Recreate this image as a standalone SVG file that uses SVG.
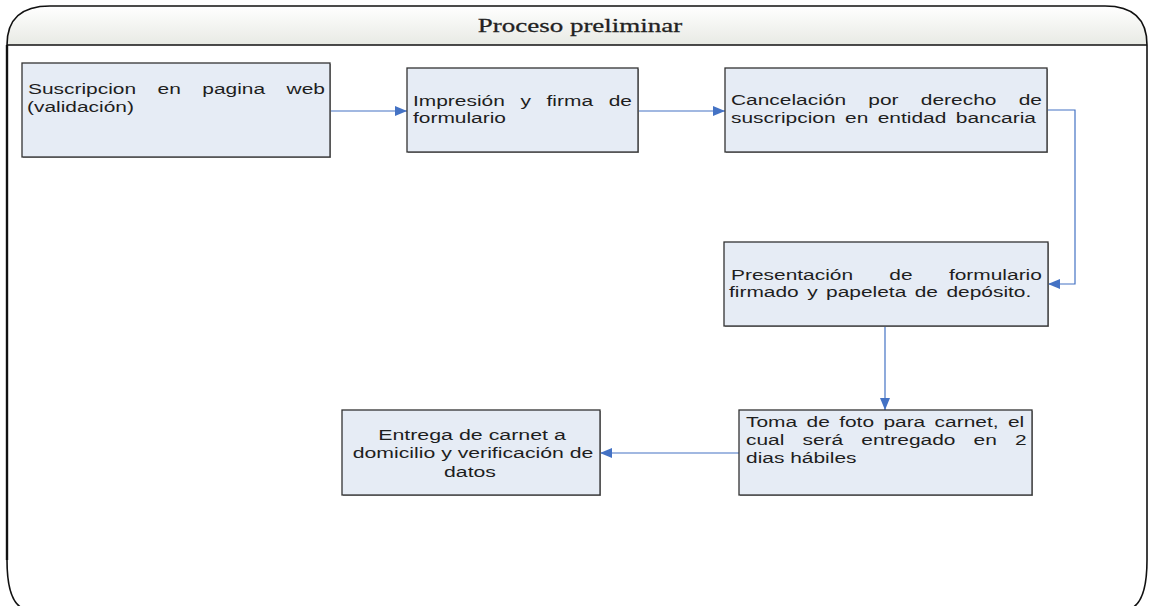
<svg xmlns="http://www.w3.org/2000/svg" width="1149" height="606" viewBox="0 0 1149 606">
<defs>
<linearGradient id="hdr" x1="0" y1="0" x2="0" y2="1">
<stop offset="0" stop-color="#ffffff"/>
<stop offset="1" stop-color="#e8eae4"/>
</linearGradient>
<marker id="ah" viewBox="0 0 12 10" refX="12" refY="5" markerWidth="12" markerHeight="10" markerUnits="userSpaceOnUse" orient="auto">
<path d="M0,0 L12,5 L0,10 z" fill="#4472C4"/>
</marker>
</defs>
<style>
.box{fill:#E6ECF5;stroke:#333;stroke-width:1.3}
.sh{fill:#9a9a9a}
.t{font-family:"Liberation Sans",Arial,sans-serif;font-size:15.5px;fill:#1e1e1e}
.c{stroke:#4472C4;stroke-width:1.2;fill:none;marker-end:url(#ah)}
</style>
<rect width="1149" height="606" fill="#fff"/>
<g id="frame">
<path d="M7,45 Q7,6 50,6 L1105,6 Q1147,6 1147,45 Z" fill="url(#hdr)"/>
<path d="M7,560 L7,45 Q7,6 50,6 L1105,6 Q1147,6 1147,45 L1147,560" fill="none" stroke="#111" stroke-width="1.6"/>
<path d="M7,560 Q7,600 22,608 M1147,560 Q1147,600 1132,608" fill="none" stroke="#111" stroke-width="1.6"/>
<line x1="7" y1="45" x2="1147" y2="45" stroke="#111" stroke-width="1.6"/>
<line x1="7" y1="45" x2="7" y2="560" stroke="#111" stroke-width="2.4"/>
<text transform="translate(580,32) scale(1.42,1)" text-anchor="middle" font-family="Liberation Serif,'Times New Roman',serif" font-size="19" fill="#222" stroke="#222" stroke-width="0.25">Proceso preliminar</text>
</g>
<g id="connectors">
<line class="c" x1="330" y1="111" x2="407" y2="111"/>
<line class="c" x1="638" y1="111" x2="725" y2="111"/>
<polyline class="c" points="1047,110 1075,110 1075,284 1048,284"/>
<line class="c" x1="885" y1="326" x2="885" y2="410"/>
<line class="c" x1="739" y1="453" x2="600" y2="453"/>
</g>
<g id="n1">
<rect class="sh" x="23" y="64" width="308" height="94"/>
<rect class="box" x="22" y="63" width="308" height="94"/>
<text class="t" transform="translate(28,94) scale(1.35,1)" word-spacing="11.58">Suscripcion en pagina web</text>
<text class="t" transform="translate(27,112) scale(1.35,1)">(validación)</text>
</g>
<g id="n2">
<rect class="sh" x="408" y="69" width="231" height="84"/>
<rect class="box" x="407" y="68" width="231" height="84"/>
<text class="t" transform="translate(413,106) scale(1.35,1)" word-spacing="7.27">Impresión y firma de</text>
<text class="t" transform="translate(413,123) scale(1.35,1)">formulario</text>
</g>
<g id="n3">
<rect class="sh" x="726" y="69" width="322" height="84"/>
<rect class="box" x="725" y="68" width="322" height="84"/>
<text class="t" transform="translate(731,105) scale(1.35,1)" word-spacing="12.17">Cancelación por derecho de</text>
<text class="t" transform="translate(731,123) scale(1.35,1)" word-spacing="2.67">suscripcion en entidad bancaria</text>
</g>
<g id="n4">
<rect class="sh" x="725" y="243" width="324" height="84"/>
<rect class="box" x="724" y="242" width="324" height="84"/>
<text class="t" transform="translate(731,280) scale(1.35,1)" word-spacing="22.56">Presentación de formulario</text>
<text class="t" transform="translate(729,297) scale(1.35,1)" word-spacing="1.93">firmado y papeleta de depósito.</text>
</g>
<g id="n5">
<rect class="sh" x="740" y="411" width="293" height="85"/>
<rect class="box" x="739" y="410" width="293" height="85"/>
<text class="t" transform="translate(746,427) scale(1.35,1)" word-spacing="2.63">Toma de foto para carnet, el</text>
<text class="t" transform="translate(746,445) scale(1.35,1)" word-spacing="9.1">cual será entregado en 2</text>
<text class="t" transform="translate(746,463) scale(1.35,1)">dias hábiles</text>
</g>
<g id="n6">
<rect class="sh" x="343" y="411" width="258" height="85"/>
<rect class="box" x="342" y="410" width="258" height="85"/>
<text class="t" transform="translate(472,440) scale(1.38,1)" text-anchor="middle">Entrega de carnet a</text>
<text class="t" transform="translate(473,458) scale(1.37,1)" text-anchor="middle">domicilio y verificación de</text>
<text class="t" transform="translate(470,477) scale(1.37,1)" text-anchor="middle">datos</text>
</g>
</svg>
